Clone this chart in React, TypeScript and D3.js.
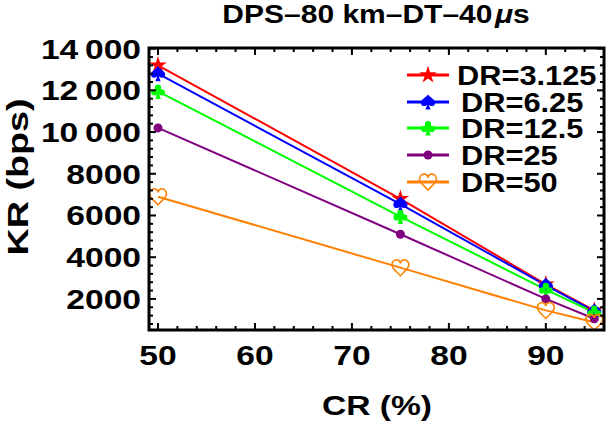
import React from "react";
import * as d3 from "d3";

// data
const cr = [50, 75, 90, 95];
const dr3125 = [13200, 6800, 2700, 1450];
const dr625 = [12800, 6550, 2650, 1420];
const dr125 = [11950, 5950, 2450, 1350];
const dr25 = [10200, 5100, 2000, 1050];
const dr50 = [6900, 3500, 1450, 880];

const seriesNames = ["DR=3.125", "DR=6.25", "DR=12.5", "DR=25", "DR=50"];
const seriesColors = ["#ff0000", "#0000ff", "#00ff00", "#800080", "#ff8000"];
const markerKinds = ["star", "spade", "club", "dot", "heart"];

const xTicks = [50, 60, 70, 80, 90];
const yTicks = [2000, 4000, 6000, 8000, 10000, 12000, 14000];
const yTickLabels = ["2000", "4000", "6000", "8000", "10\u2009000", "12\u2009000", "14\u2009000"];

const FONT = "'Liberation Sans', Arial, Helvetica, sans-serif";

const W = 609;
const H = 425;
const frame = { left: 149, top: 48, right: 604, bottom: 330 };

const x = d3.scaleLinear().domain([49.07, 96]).range([frame.left, frame.right]);
const y = d3.scaleLinear().domain([510, 14030]).range([frame.bottom, frame.top]);

const allSeries = [dr3125, dr625, dr125, dr25, dr50];

// wide bold text, the reference font is stretched horizontally
function Label({ tx, ty, anchor = "start", size = 28, sx = 1.2, rotate = false, children }: any) {
  return (
    <text
      transform={`translate(${tx},${ty})${rotate ? " rotate(-90)" : ""} scale(${sx},1)`}
      textAnchor={anchor}
      fontSize={size}
      fontWeight="bold"
      fontFamily={FONT}
      fill="#000"
    >
      {children}
    </text>
  );
}

const pt = (r: number) => (a: number, b: number) => `${(a * r).toFixed(2)},${(b * r).toFixed(2)}`;

function spadePath(r: number) {
  const p = pt(r);
  return `M${p(0, -1)}C${p(0.35, -0.55)} ${p(1, -0.35)} ${p(0.95, 0.15)}C${p(0.9, 0.6)} ${p(0.35, 0.65)} ${p(0.1, 0.35)}L${p(0.35, 1)}L${p(-0.35, 1)}L${p(-0.1, 0.35)}C${p(-0.35, 0.65)} ${p(-0.9, 0.6)} ${p(-0.95, 0.15)}C${p(-1, -0.35)} ${p(-0.35, -0.55)} ${p(0, -1)}Z`;
}

function heartPath(r: number) {
  const p = pt(r);
  return `M${p(0, 0.95)}C${p(-0.3, 0.6)} ${p(-1, 0.1)} ${p(-1, -0.35)}C${p(-1, -0.8)} ${p(-0.55, -1)} ${p(-0.3, -0.9)}C${p(-0.1, -0.82)} ${p(0, -0.65)} ${p(0, -0.5)}C${p(0, -0.65)} ${p(0.1, -0.82)} ${p(0.3, -0.9)}C${p(0.55, -1)} ${p(1, -0.8)} ${p(1, -0.35)}C${p(1, 0.1)} ${p(0.3, 0.6)} ${p(0, 0.95)}Z`;
}

const starPath = d3.symbol(d3.symbolStar, 95)() as string;

function Marker({ kind, cx, cy, color }: any) {
  const t = `translate(${cx},${cy})`;
  if (kind === "star") return <path transform={t} d={starPath} fill={color} />;
  if (kind === "spade") return <path transform={t} d={spadePath(7.5)} fill={color} />;
  if (kind === "club") {
    const r = 7.5;
    return (
      <g transform={t} fill={color}>
        <circle cx={0} cy={-0.5 * r} r={0.42 * r} />
        <circle cx={-0.5 * r} cy={0.12 * r} r={0.42 * r} />
        <circle cx={0.5 * r} cy={0.12 * r} r={0.42 * r} />
        <path d={`M0,${-0.2 * r}L${0.35 * r},${r}L${-0.35 * r},${r}Z`} />
      </g>
    );
  }
  if (kind === "dot") return <circle cx={cx} cy={cy} r={4.5} fill={color} />;
  return <path transform={t} d={heartPath(8.5)} fill="none" stroke={color} strokeWidth={1.6} />;
}

export default function App() {
  const line = d3
    .line<number>()
    .x((_, i) => x(cr[i]))
    .y((d) => y(d));

  const xMinor = d3.range(50, 96.01, 2).filter((v) => v % 10 !== 0);
  const yMinor = d3.range(800, 14030, 400).filter((v) => v % 2000 !== 0);

  const ticks: any[] = [];
  const tick = (key: string, x1: number, y1: number, x2: number, y2: number) =>
    ticks.push(<line key={key} x1={x1} y1={y1} x2={x2} y2={y2} stroke="#000" strokeWidth={2} />);
  xTicks.forEach((v) => {
    tick(`xb${v}`, x(v), frame.bottom, x(v), frame.bottom - 7);
    tick(`xt${v}`, x(v), frame.top, x(v), frame.top + 7);
  });
  xMinor.forEach((v) => {
    tick(`xbm${v}`, x(v), frame.bottom, x(v), frame.bottom - 4);
    tick(`xtm${v}`, x(v), frame.top, x(v), frame.top + 4);
  });
  yTicks.forEach((v) => {
    tick(`yl${v}`, frame.left, y(v), frame.left + 7, y(v));
    tick(`yr${v}`, frame.right, y(v), frame.right - 7, y(v));
  });
  yMinor.forEach((v) => {
    tick(`ylm${v}`, frame.left, y(v), frame.left + 4, y(v));
    tick(`yrm${v}`, frame.right, y(v), frame.right - 4, y(v));
  });

  const legendY = [75, 102, 128, 155, 182];

  return (
    <svg width={W} height={H} style={{ position: "absolute", left: 0, top: 0, background: "#fff" }}>
      <rect width={W} height={H} fill="#fff" />

      {/* title */}
      <Label tx={376} ty={23} anchor="middle" size={25} sx={1.2}>
        DPS{"\u2013"}80 km{"\u2013"}DT{"\u2013"}40
        <tspan fontStyle="italic" dx={2}>
          μ
        </tspan>
        s
      </Label>

      {/* series lines */}
      {allSeries.map((s, i) => (
        <path key={`l${i}`} d={line(s) as string} fill="none" stroke={seriesColors[i]} strokeWidth={2} />
      ))}

      {/* markers */}
      {allSeries.map((s, i) =>
        s.map((v, j) => (
          <Marker key={`m${i}-${j}`} kind={markerKinds[i]} cx={x(cr[j])} cy={y(v)} color={seriesColors[i]} />
        ))
      )}

      {/* frame and ticks */}
      {ticks}
      <rect
        x={frame.left}
        y={frame.top}
        width={frame.right - frame.left}
        height={frame.bottom - frame.top}
        fill="none"
        stroke="#000"
        strokeWidth={3}
      />

      {/* tick labels */}
      {xTicks.map((v) => (
        <Label key={`xl${v}`} tx={x(v)} ty={365} anchor="middle">
          {v}
        </Label>
      ))}
      {yTicks.map((v, i) => (
        <Label key={`yl${v}`} tx={141} ty={y(v) + 10} anchor="end">
          {yTickLabels[i]}
        </Label>
      ))}

      {/* axis titles */}
      <Label tx={377} ty={415} anchor="middle" size={28}>
        CR (%)
      </Label>
      <Label tx={28} ty={177} anchor="middle" size={29} rotate sx={1.3}>
        KR (bps)
      </Label>

      {/* legend */}
      {seriesNames.map((name, i) => (
        <g key={`lg${i}`}>
          <line x1={407} x2={449} y1={legendY[i]} y2={legendY[i]} stroke={seriesColors[i]} strokeWidth={3} />
          <Marker kind={markerKinds[i]} cx={428} cy={legendY[i]} color={seriesColors[i]} />
          <Label tx={i === 0 ? 457 : 461} ty={legendY[i] + 10} sx={1.1}>
            {name}
          </Label>
        </g>
      ))}
    </svg>
  );
}
